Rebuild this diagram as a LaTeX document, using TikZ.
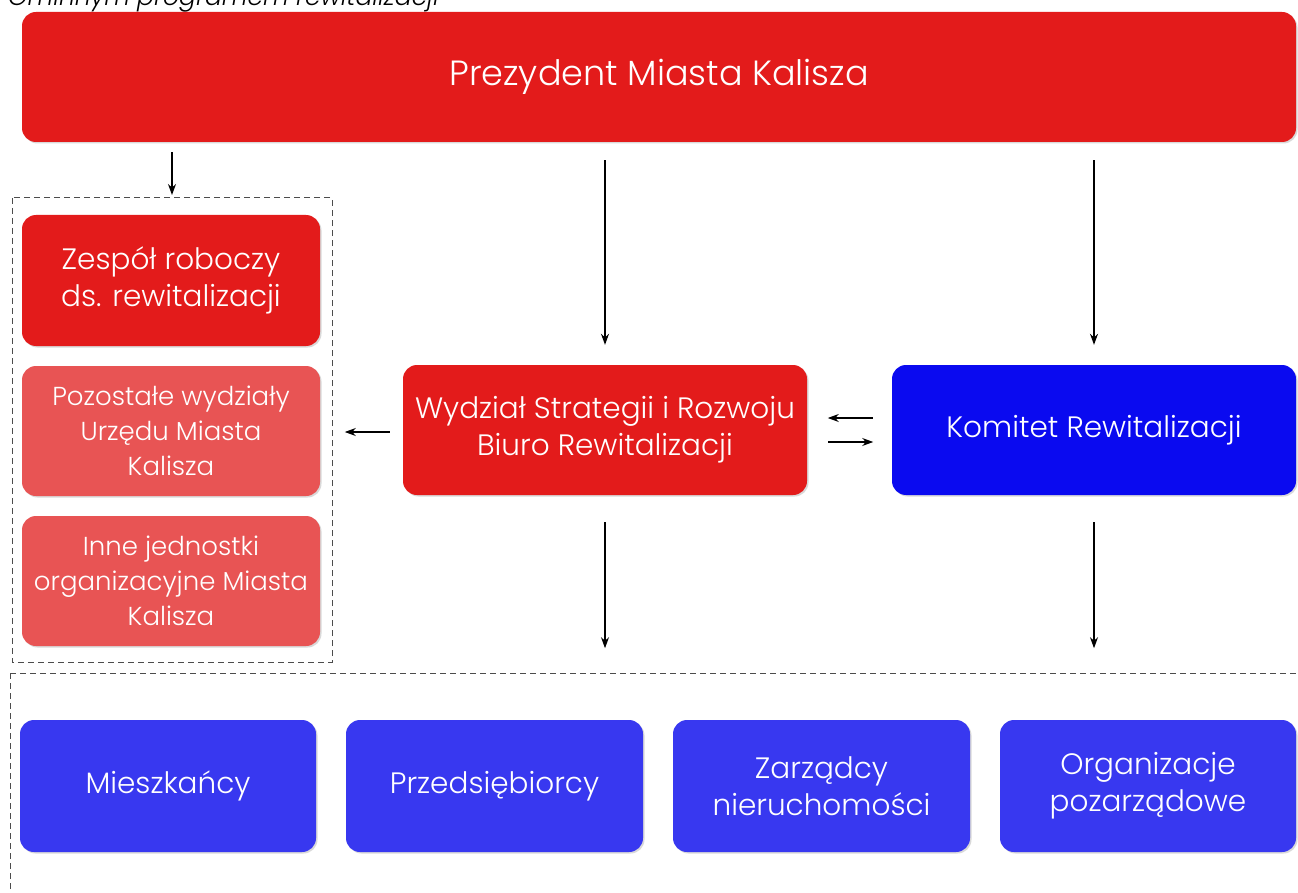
\documentclass[tikz,border=0pt]{standalone}
\usepackage{fontspec}
\setmainfont{Poppins Light}
\usetikzlibrary{arrows.meta,shadows}
\definecolor{cred}{HTML}{E31B1B}
\definecolor{clight}{HTML}{E85454}
\definecolor{cblue}{HTML}{0A0AF0}
\definecolor{cblue2}{HTML}{3838F0}
\tikzset{
  box/.style={rounded corners=14pt, text=white, align=center, inner sep=0pt,
    drop shadow={shadow xshift=1.5pt, shadow yshift=-1.5pt, fill=black!25, opacity=0.6},
    font=\fontsize{29.5}{37}\selectfont},
  redbox/.style={box, fill=cred},
  lightbox/.style={box, fill=clight, font=\fontsize{26}{35}\selectfont},
  bluebox/.style={box, fill=cblue},
  bluebox2/.style={box, fill=cblue2},
  arr/.style={-{Stealth[length=11pt,width=8pt]}, line width=1.1pt},
  dashbox/.style={draw=black!70, dashed, dash pattern=on 6pt off 4pt, line width=1pt}
}
\begin{document}
\begin{tikzpicture}[x=1pt,y=-1pt]
\useasboundingbox (0,0) rectangle (1298,893);
\node[anchor=base west, font=\itshape\fontsize{25}{30}\selectfont, inner sep=0pt] (cap) at (8,6) {Gminnym programem rewitalizacji};
% top
\node[redbox, minimum width=1274pt, minimum height=130pt, font=\fontsize{35}{40}\selectfont] (prez) at (659,77) {Prezydent Miasta Kalisza};
% left group
\draw[dashbox] (12,198) rectangle (332,662);
\coordinate (grp) at (172,198);
\node[redbox, minimum width=298pt, minimum height=131pt] (zesp) at (171,280.5) {Zespół roboczy\\ds. rewitalizacji};
\node[lightbox, minimum width=298pt, minimum height=130pt] (poz) at (171,431) {Pozostałe wydziały\\Urzędu Miasta\\Kalisza};
\node[lightbox, minimum width=298pt, minimum height=130pt] (inne) at (171,581) {Inne jednostki\\organizacyjne Miasta\\Kalisza};
% middle
\node[redbox, minimum width=404pt, minimum height=130pt] (wydz) at (605,430) {Wydział Strategii i Rozwoju\\Biuro Rewitalizacji};
\node[bluebox, minimum width=404pt, minimum height=130pt] (kom) at (1094,430) {Komitet Rewitalizacji};
% bottom
\draw[dashbox] (10,673) -- (1298,673);
\draw[dashbox] (10,673) -- (10,893);
\node[bluebox2, minimum width=296pt, minimum height=132pt] (mies) at (168,786) {Mieszkańcy};
\node[bluebox2, minimum width=297pt, minimum height=132pt] (przed) at (494.5,786) {Przedsiębiorcy};
\node[bluebox2, minimum width=297pt, minimum height=132pt] (zarz) at (821.5,786) {Zarządcy\\nieruchomości};
\node[bluebox2, minimum width=296pt, minimum height=132pt] (org) at (1148,786) {Organizacje\\pozarządowe};
% arrows
\draw[arr] ([yshift=-10pt]prez.south -| grp) -- ([yshift=3pt]grp);
\draw[arr] ([yshift=-18pt]prez.south -| wydz.north) -- ([yshift=20pt]wydz.north);
\draw[arr] ([yshift=-18pt]prez.south -| kom.north) -- ([yshift=20pt]kom.north);
\draw[arr] ([xshift=-13pt,yshift=-2pt]wydz.west) -- ([xshift=-58pt,yshift=-2pt]wydz.west);
\draw[arr] ([xshift=-19pt,yshift=12pt]kom.west) -- ([xshift=-64pt,yshift=12pt]kom.west);
\draw[arr] ([xshift=21pt,yshift=-12pt]wydz.east) -- ([xshift=66pt,yshift=-12pt]wydz.east);
\draw[arr] ([yshift=-27pt]wydz.south) -- ([yshift=-153pt]wydz.south);
\draw[arr] ([yshift=-27pt]kom.south) -- ([yshift=-153pt]kom.south);
\end{tikzpicture}
\end{document}
